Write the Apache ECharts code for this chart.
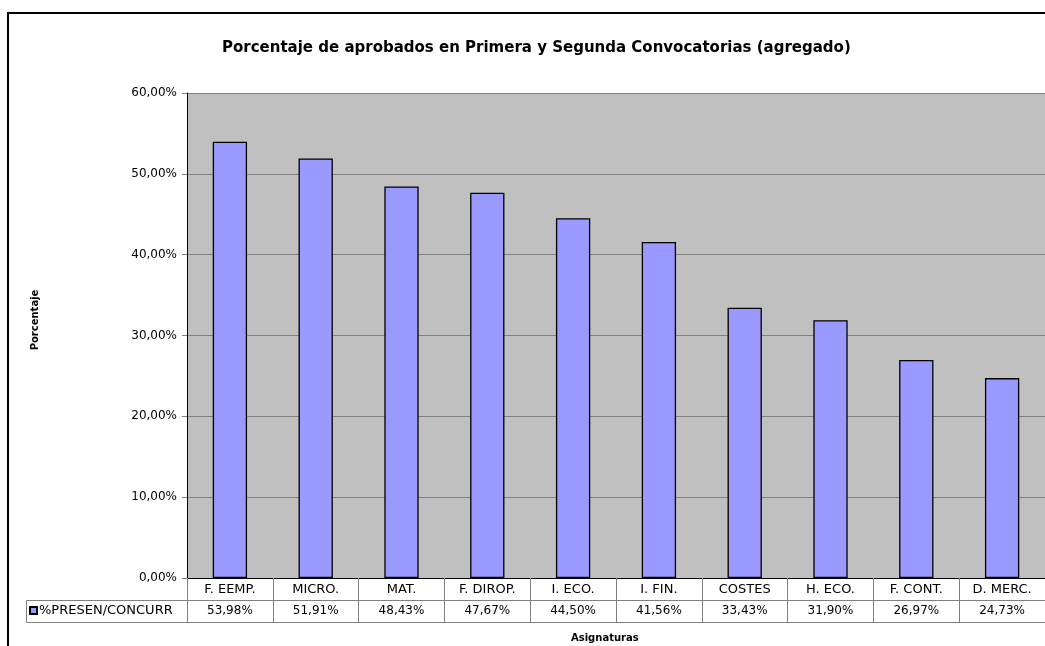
<!DOCTYPE html>
<html>
<head>
<meta charset="utf-8">
<script src="https://cdn.jsdelivr.net/npm/echarts@6/dist/echarts.min.js"></script>
<style>
html,body{margin:0;padding:0;background:#fff;}
#chart{width:1045px;height:646px;}
</style>
</head>
<body>
<div id="chart"></div>
<script>
const chartTitle = 'Porcentaje de aprobados en Primera y Segunda Convocatorias (agregado)';
const seriesName = '%PRESEN/CONCURR';
const categories = ['F. EEMP.', 'MICRO.', 'MAT.', 'F. DIROP.', 'I. ECO.', 'I. FIN.', 'COSTES', 'H. ECO.', 'F. CONT.', 'D. MERC.'];
const values = [53.98, 51.91, 48.43, 47.67, 44.50, 41.56, 33.43, 31.90, 26.97, 24.73];
const yTicks = [0, 10, 20, 30, 40, 50, 60];
const xTitle = 'Asignaturas';
const yTitle = 'Porcentaje';

const FONT = 'DejaVu Sans';
const fmt = v => v.toFixed(2).replace('.', ',') + '%';

const chart = echarts.init(document.getElementById('chart'), null, {renderer: 'canvas'});
chart.setOption({
  animation: false,
  backgroundColor: '#fff',
  textStyle: {fontFamily: FONT},
  title: [
    {text: chartTitle, left: 217, top: 36, textStyle: {fontFamily: FONT, fontSize: 15, fontWeight: 'bold', color: '#000'}},
    {text: xTitle, left: 566, top: 628, textStyle: {fontFamily: FONT, fontSize: 10, fontWeight: 'bold', color: '#000'}}
  ],
  legend: {
    data: [seriesName], left: 29, top: 604, padding: 0,
    itemWidth: 7, itemHeight: 7, itemGap: 0, icon: 'rect',
    textStyle: {fontFamily: FONT, fontSize: 13, color: '#000', padding: [0, 0, 0, -3]}
  },
  grid: {left: 187, top: 93, width: 869, bottom: 68, show: true, backgroundColor: '#C0C0C0', borderWidth: 0},
  graphic: [
    {type: 'rect', shape: {x: 8, y: 13, width: 1200, height: 800}, style: {fill: 'none', stroke: '#000', lineWidth: 2}, z: 100, silent: true},
    {type: 'rect', shape: {x: 26.5, y: 600.5, width: 161, height: 22}, style: {fill: 'none', stroke: '#808080', lineWidth: 1}, z: 50, silent: true},
    {type: 'text', x: 35, y: 320, rotation: Math.PI / 2, style: {text: yTitle, font: 'bold 10px "DejaVu Sans"', fill: '#000', align: 'center', verticalAlign: 'middle'}}
  ],
  xAxis: [
    {
      type: 'category', data: categories, position: 'bottom',
      axisLine: {lineStyle: {color: '#000', width: 1}},
      axisTick: {show: true, length: 44, interval: 0, lineStyle: {color: '#808080'}},
      axisLabel: {interval: 0, margin: 5, fontFamily: FONT, fontSize: 13, color: '#000'}
    },
    {
      type: 'category', data: categories, position: 'bottom', offset: 22,
      axisLine: {lineStyle: {color: '#808080', width: 1}},
      axisTick: {show: false},
      axisLabel: {interval: 0, margin: 5, fontFamily: FONT, fontSize: 12, color: '#000', formatter: (v, i) => fmt(values[i])}
    },
    {
      type: 'category', data: categories, position: 'bottom', offset: 44,
      axisLine: {lineStyle: {color: '#808080', width: 1}},
      axisTick: {show: false}, axisLabel: {show: false}
    }
  ],
  yAxis: {
    type: 'value', min: yTicks[0], max: yTicks[yTicks.length - 1], interval: 10,
    axisLine: {show: true, lineStyle: {color: '#000', width: 1}},
    axisTick: {show: true, length: 5, lineStyle: {color: '#808080'}},
    axisLabel: {fontFamily: FONT, fontSize: 12, color: '#000', margin: 10, formatter: v => fmt(v)},
    splitLine: {show: true, lineStyle: {color: '#808080', width: 1}}
  },
  series: [{
    name: seriesName, type: 'bar', data: values, barWidth: '40%',
    itemStyle: {color: '#9999FF', borderColor: '#000', borderWidth: 1.3}
  }]
});
</script>
</body>
</html>
